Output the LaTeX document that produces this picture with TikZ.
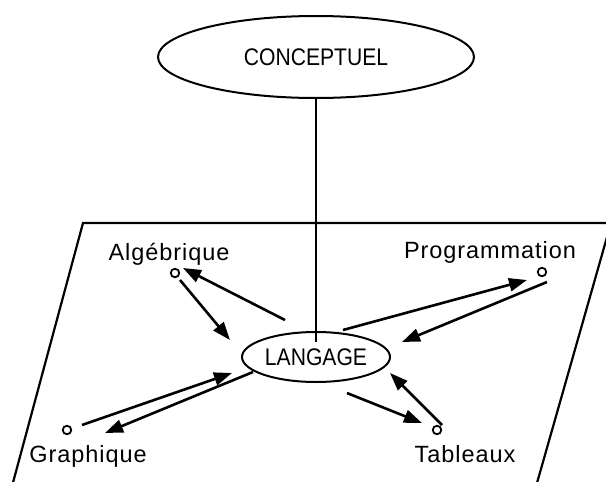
\documentclass[tikz,border=0pt]{standalone}
\usepackage{fontspec}
\setmainfont{Liberation Sans}
\newfontfamily\grosfont[FakeStretch=0.88]{Liberation Sans}
\newfontfamily\petitfont[LetterSpace=4]{Liberation Sans}
\usetikzlibrary{shapes}
\usetikzlibrary {arrows.meta}
\tikzset{bulle/.style = {
    shape=ellipse, draw=black, line width=2pt, inner sep=0pt,
    font=\grosfont\fontsize{24}{28}\selectfont
}}
\tikzset{point/.style = {
    shape=circle, draw=black, line width=1.8pt, minimum size=8.5pt, inner sep=0pt
}}
\tikzset{fleche/.style = {
    line width=2.6pt, -{Triangle[length=18pt,width=13pt]}
}}
\tikzset{etiquette/.style = {
    anchor=base, inner sep=0pt, font=\petitfont\fontsize{23.5}{28}\selectfont
}}

\begin{document}
\begin{tikzpicture}[x=1pt,y=-1pt]
  \useasboundingbox (0,0) rectangle (606,482);
  \clip (0,0) rectangle (606,482);
  % le plan
  \draw[line width=2.2pt] (11,490) -- (83,223) -- (611,223) -- (535,490);
  % les deux niveaux
  \node (concept) at (316,57) [bulle, minimum width=316pt, minimum height=82pt] {CONCEPTUEL};
  \node (lang) at (316,357) [bulle, minimum width=148pt, minimum height=50pt] {LANGAGE};
  \draw[line width=2pt, shorten >=-11pt] (concept.south) -- (lang.north);
  % les quatre registres
  \node (alg) at (175,273) [point] {};
  \node (prog) at (542,272) [point] {};
  \node (gra) at (67,430) [point] {};
  \node (tab) at (437,430) [point] {};
  \node (alg-txt) at (169,260) [etiquette] {Algébrique};
  \node (prog-txt) at (490,258) [etiquette] {Programmation};
  \node (gra-txt) at (88,462) [etiquette] {Graphique};
  \node (tab-txt) at (465,462) [etiquette] {Tableaux};
  % aller et retour
  \draw[fleche] ([shift={(-31,-37)}]lang.center) -- ([shift={(8,-5)}]alg.center);
  \draw[fleche] ([shift={(5,7)}]alg.center) -- ([shift={(-86,-17)}]lang.center);
  \draw[fleche] ([shift={(27,-27)}]lang.center) -- ([shift={(-15,8)}]prog.center);
  \draw[fleche] ([shift={(5,10)}]prog.center) -- ([shift={(86,-15)}]lang.center);
  \draw[fleche] ([shift={(15,-5)}]gra.center) -- ([shift={(-84,16)}]lang.center);
  \draw[fleche] ([shift={(-63,15)}]lang.center) -- ([shift={(38,3)}]gra.center);
  \draw[fleche] ([shift={(31,36)}]lang.center) -- ([shift={(-15,-7)}]tab.center);
  \draw[fleche] ([shift={(5,-5)}]tab.center) -- ([shift={(74,16)}]lang.center);
\end{tikzpicture}
\end{document}
